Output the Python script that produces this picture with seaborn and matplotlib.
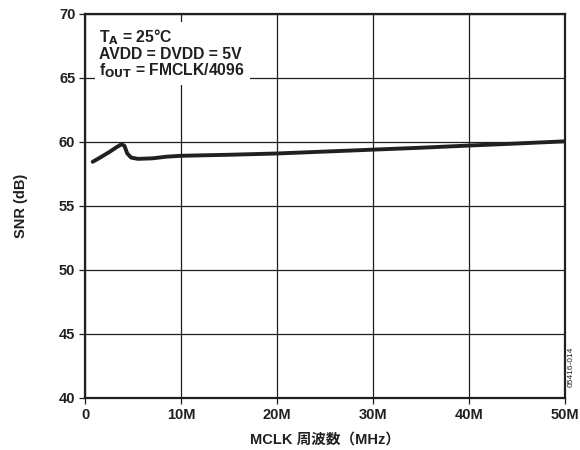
import matplotlib
matplotlib.use("Agg")
import matplotlib.pyplot as plt
import seaborn as sns
import pandas as pd

sns.set_theme(style="white")
plt.rcParams['font.family'] = ['Liberation Sans', 'Noto Sans CJK JP', 'DejaVu Sans']

mclk_mhz = [0.8, 1.5, 2.5, 3.3, 3.8, 4.1, 4.4, 4.8, 5.5, 7.0, 8.5, 10, 15, 20, 25, 30, 35, 40, 45, 50]
snr_db = [58.45, 58.75, 59.2, 59.6, 59.82, 59.7, 59.1, 58.78, 58.68, 58.72, 58.85, 58.92, 59.0, 59.1, 59.25, 59.4, 59.55, 59.72, 59.88, 60.05]
x_ticks = [0, 10, 20, 30, 40, 50]
x_tick_labels = ["0", "10M", "20M", "30M", "40M", "50M"]
y_ticks = [40, 45, 50, 55, 60, 65, 70]

df = pd.DataFrame({"MCLK": mclk_mhz, "SNR": snr_db})

fig = plt.figure(figsize=(5.8, 4.5), dpi=100)
ax = fig.add_axes([0.1466, 0.1156, 0.8276, 0.8534])

sns.lineplot(data=df, x="MCLK", y="SNR", ax=ax, color="#231f20", linewidth=2.8, zorder=3)

ax.set_xlim(0, 50)
ax.set_ylim(40, 70)
ax.set_xticks(x_ticks)
ax.set_xticklabels(x_tick_labels)
ax.set_yticks(y_ticks)
ax.grid(True, color="#231f20", linewidth=0.9)
for s in ax.spines.values():
    s.set_color("#231f20")
    s.set_linewidth(1.6)
ax.tick_params(axis='both', labelsize=10.5, colors="#231f20", length=4, width=0.9, direction='out', pad=3)
ax.tick_params(axis='both', bottom=True, left=True)
for lab in ax.get_xticklabels() + ax.get_yticklabels():
    lab.set_fontweight('bold')

ax.set_xlabel("MCLK 周波数（MHz）", fontsize=10.5, fontweight='bold', labelpad=8, color="#231f20")
ax.set_ylabel("SNR (dB)", fontsize=10.5, fontweight='bold', labelpad=22, color="#231f20")

ax.text(0.03, 0.966,
        "T$_\\mathbf{A}$ = 25°C\nAVDD = DVDD = 5V\nf$_\\mathbf{OUT}$ = FMCLK/4096",
        transform=ax.transAxes, ha='left', va='top', fontsize=11.3, fontweight='bold',
        color="#231f20", linespacing=1.0,
        bbox=dict(facecolor='white', edgecolor='none', pad=3.5), zorder=4)

fig.text(0.985, 0.14, "05416-014", rotation=90, fontsize=6, ha='center', va='bottom', color="#231f20")

fig.savefig("out.png", dpi=100)
